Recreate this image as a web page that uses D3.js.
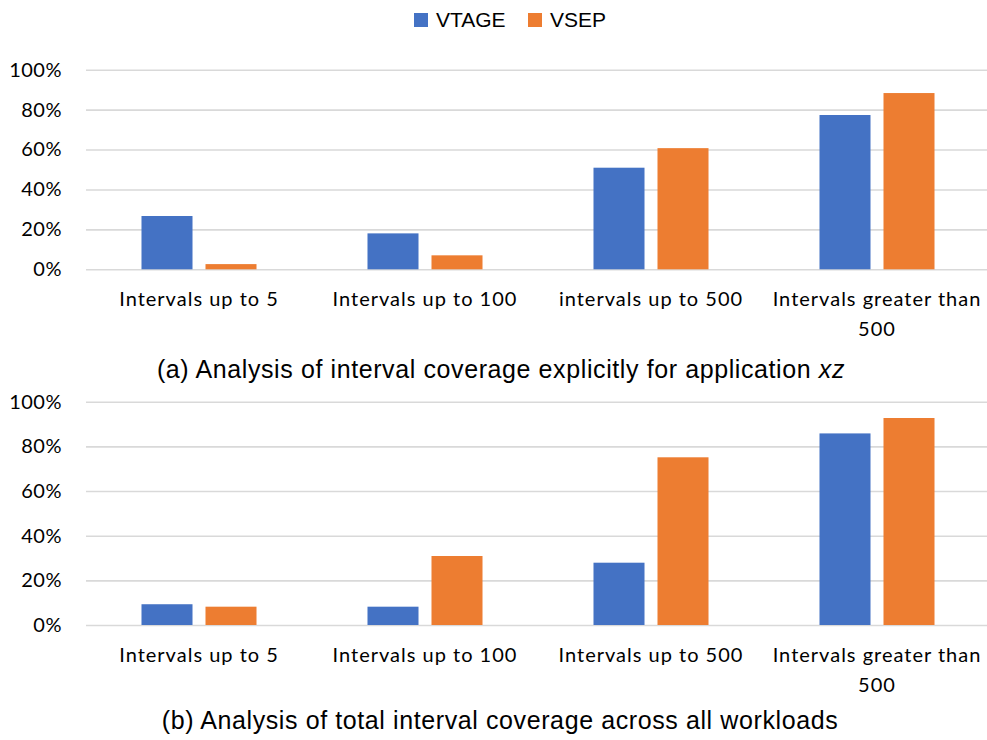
<!DOCTYPE html>
<html>
<head>
<meta charset="utf-8">
<script src="https://cdn.jsdelivr.net/npm/d3@7"></script>
<style>
    body { margin: 0; background: #fff; }
    .axis text { font-family: Lato, "Open Sans", sans-serif; fill: #000; }
    .caption, .legend text { font-family: "Liberation Sans", Arial, sans-serif; fill: #000; }
</style>
</head>
<body>
<svg id="chart" width="987" height="740"></svg>
<script>
var seriesNames = ["VTAGE", "VSEP"];
var seriesColors = ["#4472C4", "#ED7D31"];

var categoriesA = ["Intervals up to 5", "Intervals up to 100", "intervals up to 500", "Intervals greater than 500"];
var vtageA = [0.267, 0.18, 0.509, 0.773];
var vsepA = [0.026, 0.07, 0.607, 0.883];

var categoriesB = ["Intervals up to 5", "Intervals up to 100", "Intervals up to 500", "Intervals greater than 500"];
var vtageB = [0.093, 0.082, 0.279, 0.858];
var vsepB = [0.082, 0.309, 0.751, 0.927];

var yTicks = [0, 0.2, 0.4, 0.6, 0.8, 1];

var svg = d3.select("#chart");

// legend
var legend = svg.append("g").attr("class", "legend");
var legendX = [414, 528];
seriesNames.forEach(function(name, i) {
    legend.append("rect")
        .attr("x", legendX[i])
        .attr("y", 13)
        .attr("width", 14)
        .attr("height", 14)
        .attr("fill", seriesColors[i]);
    legend.append("text")
        .attr("x", legendX[i] + 22)
        .attr("y", 27)
        .attr("font-size", 21)
        .text(name);
});

function drawPanel(svg, categories, vtage, vsep, top, bottom) {
    var left = 86,
        right = 987,
        plotRight = 990;

    var x = d3.scaleBand().domain(categories).range([ left, plotRight ]),
        xs = d3.scaleBand().domain(seriesNames).range([ 0, x.bandwidth() ])
            .paddingInner(0.203).paddingOuter(0.867),
        y = d3.scaleLinear().domain([ 0, 1 ]).range([ bottom, top ]);

    var g = svg.append("g");

    // gridlines + y tick labels
    g.append("g")
        .attr("class", "axis axis--y")
        .attr("transform", "translate(" + left + ",0)")
        .call(d3.axisLeft(y)
            .tickValues(yTicks)
            .tickFormat(d3.format(".0%"))
            .tickSize(-(right - left))
            .tickPadding(24))
        .call(function(a) {
            a.select(".domain").remove();
            a.selectAll(".tick line").attr("stroke", "#d9d9d9").attr("stroke-width", 1.6);
            a.selectAll(".tick text").attr("font-size", 20).attr("letter-spacing", 0.5);
        });

    var rows = categories.map(function(c, i) {
        return { cat : c, values : [ vtage[i], vsep[i] ] };
    });

    g.selectAll(".group")
        .data(rows)
        .enter().append("g")
        .attr("class", "group")
        .attr("transform", function(d) {
            return "translate(" + x(d.cat) + ",0)";
        })
        .selectAll("rect")
        .data(function(d) {
            return d.values.map(function(v, i) {
                return { name : seriesNames[i], value : v, color : seriesColors[i] };
            });
        })
        .enter().append("rect")
        .attr("x", function(d) { return xs(d.name); })
        .attr("y", function(d) { return y(d.value); })
        .attr("width", xs.bandwidth())
        .attr("height", function(d) { return y(0) - y(d.value); })
        .attr("fill", function(d) { return d.color; });

    // category labels
    g.append("g")
        .attr("class", "axis axis--x")
        .attr("transform", "translate(0," + bottom + ")")
        .call(d3.axisBottom(x).tickSize(0).tickPadding(0))
        .call(function(a) {
            a.select(".domain").remove();
            a.selectAll(".tick text")
                .attr("font-size", 20)
                .attr("letter-spacing", 1)
                .attr("dy", null)
                .attr("y", 37)
                .call(wrap, 216);
        });
}

function wrap(text, width) {
    text.each(function() {
        var t = d3.select(this),
            words = t.text().split(/\s+/),
            line = [],
            lineNo = 0,
            yy = t.attr("y"),
            tspan = t.text(null).append("tspan").attr("x", 0).attr("y", yy);
        words.forEach(function(w) {
            line.push(w);
            tspan.text(line.join(" "));
            if (tspan.node().getComputedTextLength() > width && line.length > 1) {
                line.pop();
                tspan.text(line.join(" "));
                line = [ w ];
                lineNo++;
                tspan = t.append("tspan").attr("x", 0).attr("y", +yy + lineNo * 30).text(w);
            }
        });
    });
}

drawPanel(svg, categoriesA, vtageA, vsepA, 69.7, 269.3);
drawPanel(svg, categoriesB, vtageB, vsepB, 401.7, 625);

// captions
var capA = svg.append("text")
    .attr("class", "caption")
    .attr("x", 501)
    .attr("y", 378)
    .attr("text-anchor", "middle")
    .attr("font-size", 25)
    .attr("letter-spacing", 0.6);
capA.append("tspan").text("(a) Analysis of interval coverage explicitly for application ");
capA.append("tspan").attr("font-style", "italic").text("xz");

svg.append("text")
    .attr("class", "caption")
    .attr("x", 500)
    .attr("y", 729)
    .attr("text-anchor", "middle")
    .attr("font-size", 25)
    .attr("letter-spacing", 0.6)
    .text("(b) Analysis of total interval coverage across all workloads");
</script>
</body>
</html>
